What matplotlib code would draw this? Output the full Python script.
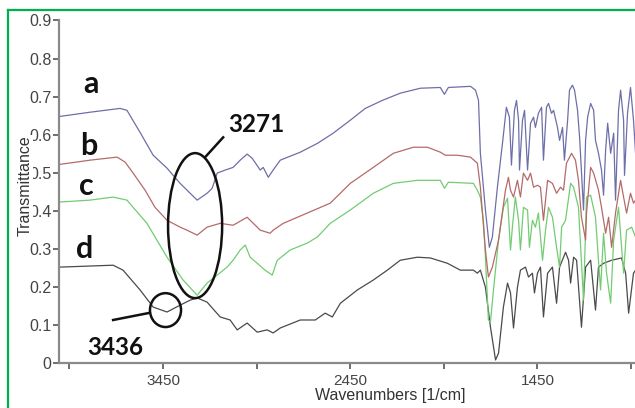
import matplotlib
matplotlib.use("Agg")
import matplotlib.pyplot as plt
from matplotlib.patches import Ellipse
from matplotlib.lines import Line2D

# ---- data ----
a_wn = [4000, 3840, 3680, 3643, 3573, 3503, 3429, 3359, 3268, 3215, 3188, 3161, 3118, 3076, 3038, 3001,
        2974, 2931, 2915, 2888, 2862, 2824, 2717, 2626, 2541, 2450, 2370, 2279, 2183, 2076, 1969, 1947,
        1926, 1808, 1781, 1765, 1755, 1728, 1707, 1691, 1664, 1637, 1616, 1600, 1589, 1573, 1562, 1551,
        1546, 1530, 1519, 1503, 1487, 1471, 1461, 1445, 1428, 1418, 1402, 1391, 1375, 1364, 1343, 1332,
        1316, 1306, 1289, 1279, 1263, 1252, 1236, 1225, 1204, 1193, 1182, 1166, 1150, 1140, 1124, 1108,
        1097, 1086, 1075, 1059, 1043, 1033, 1017, 1006, 990, 985, 969, 953, 937, 926]
a_t = [0.648, 0.659, 0.669, 0.664, 0.606, 0.546, 0.512, 0.472, 0.428, 0.446, 0.459, 0.499, 0.507, 0.514,
       0.533, 0.549, 0.538, 0.507, 0.514, 0.488, 0.507, 0.533, 0.554, 0.577, 0.604, 0.638, 0.669, 0.690,
       0.709, 0.722, 0.724, 0.706, 0.724, 0.727, 0.717, 0.690, 0.551, 0.402, 0.304, 0.331, 0.462, 0.577,
       0.672, 0.646, 0.520, 0.664, 0.690, 0.638, 0.507, 0.638, 0.664, 0.507, 0.630, 0.646, 0.619, 0.656,
       0.672, 0.533, 0.672, 0.682, 0.656, 0.664, 0.619, 0.585, 0.619, 0.533, 0.638, 0.717, 0.730, 0.717,
       0.664, 0.593, 0.402, 0.585, 0.646, 0.682, 0.664, 0.585, 0.551, 0.507, 0.441, 0.559, 0.630, 0.551,
       0.604, 0.428, 0.664, 0.717, 0.638, 0.493, 0.656, 0.724, 0.638, 0.551]

b_wn = [4000, 3840, 3696, 3653, 3610, 3546, 3493, 3429, 3359, 3322, 3268, 3215, 3145, 3076, 3001, 2974,
        2931, 2878, 2862, 2808, 2680, 2557, 2450, 2327, 2220, 2113, 2038, 1969, 1942, 1878, 1808, 1771,
        1755, 1728, 1712, 1691, 1658, 1621, 1605, 1594, 1578, 1557, 1541, 1525, 1503, 1487, 1471, 1450,
        1434, 1418, 1396, 1370, 1348, 1327, 1311, 1295, 1268, 1247, 1231, 1215, 1193, 1188, 1166, 1150,
        1124, 1108, 1086, 1070, 1054, 1033, 1006, 990, 974, 953, 937, 926]
b_t = [0.522, 0.533, 0.541, 0.528, 0.499, 0.454, 0.409, 0.375, 0.357, 0.349, 0.336, 0.357, 0.367, 0.362,
       0.383, 0.370, 0.349, 0.341, 0.349, 0.367, 0.394, 0.420, 0.472, 0.514, 0.551, 0.567, 0.567, 0.554,
       0.546, 0.546, 0.541, 0.525, 0.462, 0.297, 0.226, 0.252, 0.323, 0.454, 0.488, 0.454, 0.436, 0.480,
       0.436, 0.499, 0.480, 0.499, 0.462, 0.467, 0.462, 0.375, 0.480, 0.472, 0.446, 0.462, 0.454, 0.525,
       0.551, 0.533, 0.480, 0.383, 0.323, 0.394, 0.514, 0.499, 0.454, 0.409, 0.341, 0.383, 0.304, 0.394,
       0.480, 0.436, 0.394, 0.446, 0.420, 0.428]

c_wn = [4000, 3840, 3717, 3643, 3610, 3536, 3429, 3343, 3268, 3215, 3161, 3108, 3076, 3038, 3011, 2985,
        2947, 2905, 2867, 2840, 2771, 2680, 2626, 2557, 2450, 2327, 2220, 2092, 1969, 1947, 1926, 1792,
        1771, 1755, 1739, 1728, 1712, 1701, 1685, 1658, 1632, 1610, 1594, 1584, 1568, 1551, 1541, 1525,
        1503, 1493, 1477, 1461, 1445, 1423, 1407, 1391, 1370, 1348, 1332, 1321, 1300, 1273, 1257, 1231,
        1204, 1188, 1166, 1140, 1113, 1097, 1081, 1059, 1043, 1017, 990, 974, 947, 926]
c_t = [0.423, 0.428, 0.436, 0.428, 0.409, 0.367, 0.278, 0.218, 0.178, 0.210, 0.231, 0.252, 0.270, 0.297,
       0.310, 0.278, 0.262, 0.244, 0.231, 0.270, 0.297, 0.315, 0.331, 0.367, 0.402, 0.446, 0.472, 0.480,
       0.480, 0.459, 0.475, 0.472, 0.454, 0.436, 0.375, 0.278, 0.113, 0.108, 0.192, 0.323, 0.409, 0.433,
       0.297, 0.357, 0.436, 0.375, 0.297, 0.409, 0.402, 0.304, 0.375, 0.357, 0.394, 0.270, 0.349, 0.409,
       0.383, 0.304, 0.252, 0.357, 0.375, 0.472, 0.462, 0.409, 0.165, 0.436, 0.441, 0.383, 0.192, 0.341,
       0.236, 0.157, 0.323, 0.409, 0.236, 0.349, 0.357, 0.331]

d_wn = [4000, 3717, 3664, 3573, 3503, 3429, 3359, 3306, 3268, 3215, 3145, 3092, 3054, 3001, 2947, 2894,
        2862, 2824, 2717, 2637, 2584, 2546, 2503, 2412, 2327, 2252, 2183, 2092, 2022, 1931, 1862, 1792,
        1771, 1755, 1728, 1701, 1674, 1658, 1632, 1610, 1594, 1578, 1557, 1541, 1514, 1498, 1477, 1466,
        1450, 1434, 1418, 1396, 1370, 1348, 1332, 1300, 1284, 1273, 1257, 1241, 1215, 1193, 1166, 1140,
        1124, 1097, 1054, 1001, 979, 963, 937, 926]
d_t = [0.252, 0.257, 0.244, 0.192, 0.147, 0.134, 0.152, 0.165, 0.171, 0.160, 0.121, 0.113, 0.087, 0.105,
       0.081, 0.087, 0.079, 0.092, 0.113, 0.113, 0.131, 0.121, 0.157, 0.192, 0.218, 0.244, 0.270, 0.278,
       0.276, 0.262, 0.244, 0.244, 0.236, 0.244, 0.199, 0.094, 0.008, 0.026, 0.147, 0.210, 0.184, 0.092,
       0.199, 0.244, 0.252, 0.226, 0.236, 0.184, 0.236, 0.252, 0.121, 0.236, 0.252, 0.157, 0.252, 0.291,
       0.270, 0.210, 0.278, 0.270, 0.094, 0.252, 0.270, 0.139, 0.252, 0.262, 0.270, 0.276, 0.236, 0.131,
       0.236, 0.244]

series_labels = ["a", "b", "c", "d"]
x_ticks = [3950, 3450, 2950, 2450, 1950, 1450, 950]
x_ticklabels = ["", "3450", "", "2450", "", "1450", ""]
y_ticks = [0, 0.1, 0.2, 0.3, 0.4, 0.5, 0.6, 0.7, 0.8, 0.9]
y_ticklabels = ["0", "0.1", "0.2", "0.3", "0.4", "0.5", "0.6", "0.7", "0.8", "0.9"]
peak_labels = ["3271", "3436"]

# ---- figure ----
W, H = 635, 408
fig = plt.figure(figsize=(W / 100, H / 100), dpi=100)
fig.patch.set_facecolor("white")

ax = fig.add_axes([59 / W, 1 - 363 / H, (W - 59) / W, (363 - 20.5) / H])
ax.plot(d_wn, d_t, color="#4a4a4a", lw=0.9)
ax.plot(c_wn, c_t, color="#72cc72", lw=0.9)
ax.plot(b_wn, b_t, color="#b56a6a", lw=0.9)
ax.plot(a_wn, a_t, color="#6e6ea8", lw=0.9)

ax.set_xlim(4006, 929)
ax.set_ylim(0, 0.9)
for s in ["top", "right"]:
    ax.spines[s].set_visible(False)
for s in ["left", "bottom"]:
    ax.spines[s].set_color("#8a8a8a")
    ax.spines[s].set_linewidth(1.6)

ax.set_xticks(x_ticks)
ax.set_xticklabels(x_ticklabels, fontfamily="Liberation Sans", fontsize=11, color="#444444")
ax.set_yticks(y_ticks)
ax.set_yticklabels(y_ticklabels, fontfamily="Liberation Sans", fontsize=11.5, color="#444444")
ax.tick_params(axis="x", direction="out", length=4, width=1.2, color="#555555", pad=4)
ax.tick_params(axis="y", direction="out", length=4, width=1.2, color="#555555", pad=1.5)

ax.set_xlabel("Wavenumbers [1/cm]", fontfamily="Liberation Sans", fontsize=11.5, color="#333333")
ax.xaxis.set_label_coords((390 - 59) / (W - 59), -(388 - 363) / (363 - 20.5))
ylab = ax.set_ylabel("Transmittance", fontfamily="Liberation Sans", fontsize=11.5, color="#333333")
ax.yaxis.set_label_coords(-(59 - 33) / (W - 59), (363 - 186) / (363 - 20.5))
ylab.set_bbox(dict(facecolor="white", edgecolor="none", pad=0.3))

# series letters
letter_pos = [(3838, 0.709), (3848, 0.546), (3862, 0.441), (3870, 0.276)]
for lab, (x, y) in zip(series_labels, letter_pos):
    ax.text(x, y, lab, fontfamily="Lato", fontweight="bold", fontsize=22, color="#111111",
            ha="center", va="baseline")

# peak annotations
ax.add_patch(Ellipse((3279, 0.361), 289, 0.381, fill=False, ec="#111111", lw=1.8, zorder=5))
ax.add_patch(Ellipse((3437, 0.139), 166, 0.089, fill=False, ec="#111111", lw=1.8, zorder=5))
ax.add_line(Line2D([3225, 3129], [0.541, 0.593], color="#111111", lw=1.8, zorder=5))
ax.add_line(Line2D([3717, 3530], [0.113, 0.131], color="#111111", lw=1.8, zorder=5))
ax.text(2953, 0.606, peak_labels[0], fontfamily="Lato", fontweight="bold", fontsize=17.5,
        color="#111111", ha="center", va="baseline")
ax.text(3707, 0.021, peak_labels[1], fontfamily="Lato", fontweight="bold", fontsize=17.5,
        color="#111111", ha="center", va="baseline")

# green frame (top and left)
fig.add_artist(Line2D([8 / W, 1], [1 - 10 / H, 1 - 10 / H], transform=fig.transFigure,
                      color="#00b050", lw=1.6))
fig.add_artist(Line2D([8 / W, 8 / W], [0, 1 - 10 / H], transform=fig.transFigure,
                      color="#00b050", lw=1.6))

fig.savefig("out.png", dpi=100, facecolor="white")
